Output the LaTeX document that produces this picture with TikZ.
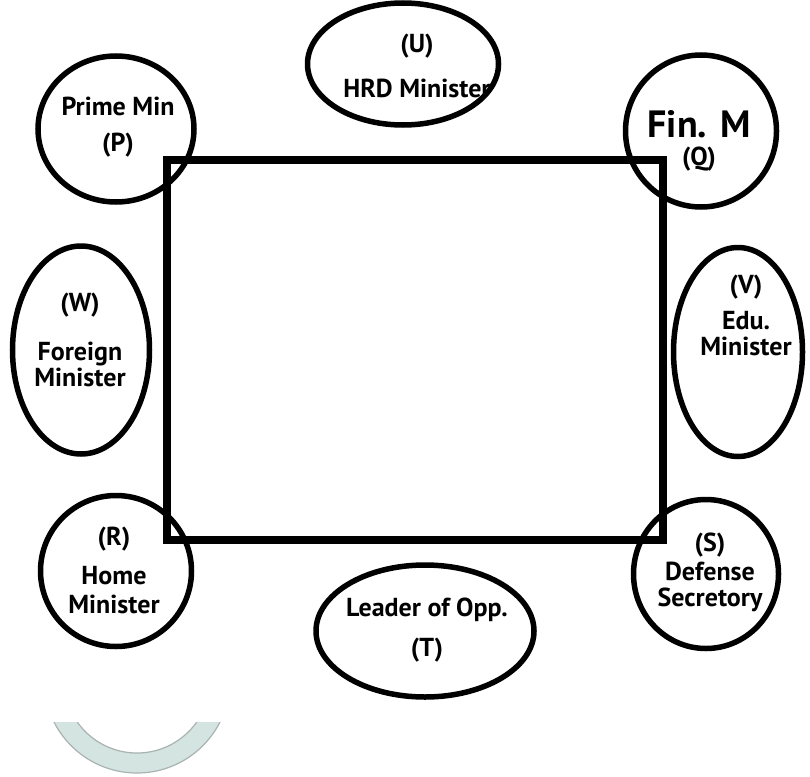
\documentclass[tikz,border=0pt]{standalone}
\usepackage{fontspec}
\setmainfont{PT Sans}
\usetikzlibrary{shapes.geometric}
\definecolor{ringfill}{HTML}{D4E4E0}
\definecolor{ringedge}{HTML}{A9B3B2}
\tikzset{
  seat/.style={draw,shape=ellipse,line width=5.5pt,inner sep=0pt},
  who/.style={align=center,font=\bfseries\fontsize{26}{25}\selectfont}
}
\begin{document}
\begin{tikzpicture}[x=1pt,y=-1pt]
\useasboundingbox (0,0) rectangle (810,776);
\begin{scope}
\clip (0,722) rectangle (300,776);
\draw[even odd rule,fill=ringfill,draw=ringedge,line width=1.2pt] (137,680) circle[radius=93pt] (137,680) circle[radius=73pt];
\end{scope}
\node [draw,line width=7.5pt,minimum width=496pt,minimum height=380pt,name=table] at (415,350){};
\node [seat,name=p,minimum width=156pt,minimum height=146pt] at (116,129){};
\node [seat,name=u,minimum width=191pt,minimum height=122pt] at (403,64){};
\node [seat,name=q,minimum width=151pt,minimum height=152pt] at (701,131){};
\node [seat,name=w,minimum width=137pt,minimum height=208pt] at (81,350){};
\node [seat,name=v,minimum width=129pt,minimum height=209pt] at (738,352){};
\node [seat,name=r,minimum width=151pt,minimum height=151pt] at (116,571){};
\node [seat,name=s,minimum width=145pt,minimum height=149pt] at (706,574){};
\node [seat,name=t,minimum width=218pt,minimum height=132pt] at (425,631){};
\node [who,name=ptext] at (118,127){Prime Min\\[11pt](P)};
\node [who,name=utext] at (417,66){(U)\\[20pt]HRD Minister};
\node [who,name=qtext] at (699,141){{\fontsize{38}{38}\selectfont Fin. M}\\[3pt](Q)};
\node [who,name=wtext] at (80,340){(W)\\[24pt]Foreign\\[1pt]Minister};
\node [who,name=vtext] at (746,315){(V)\\[11pt]Edu.\\[1pt]Minister};
\node [who,name=rtext] at (114,570){(R)\\[14pt]Home\\[4pt]Minister};
\node [who,name=stext] at (710,572){(S)\\[4pt]Defense\\[1pt]Secretory};
\node [who,name=ttext] at (427,630){Leader of Opp.\\[15pt](T)};
\end{tikzpicture}
\end{document}
